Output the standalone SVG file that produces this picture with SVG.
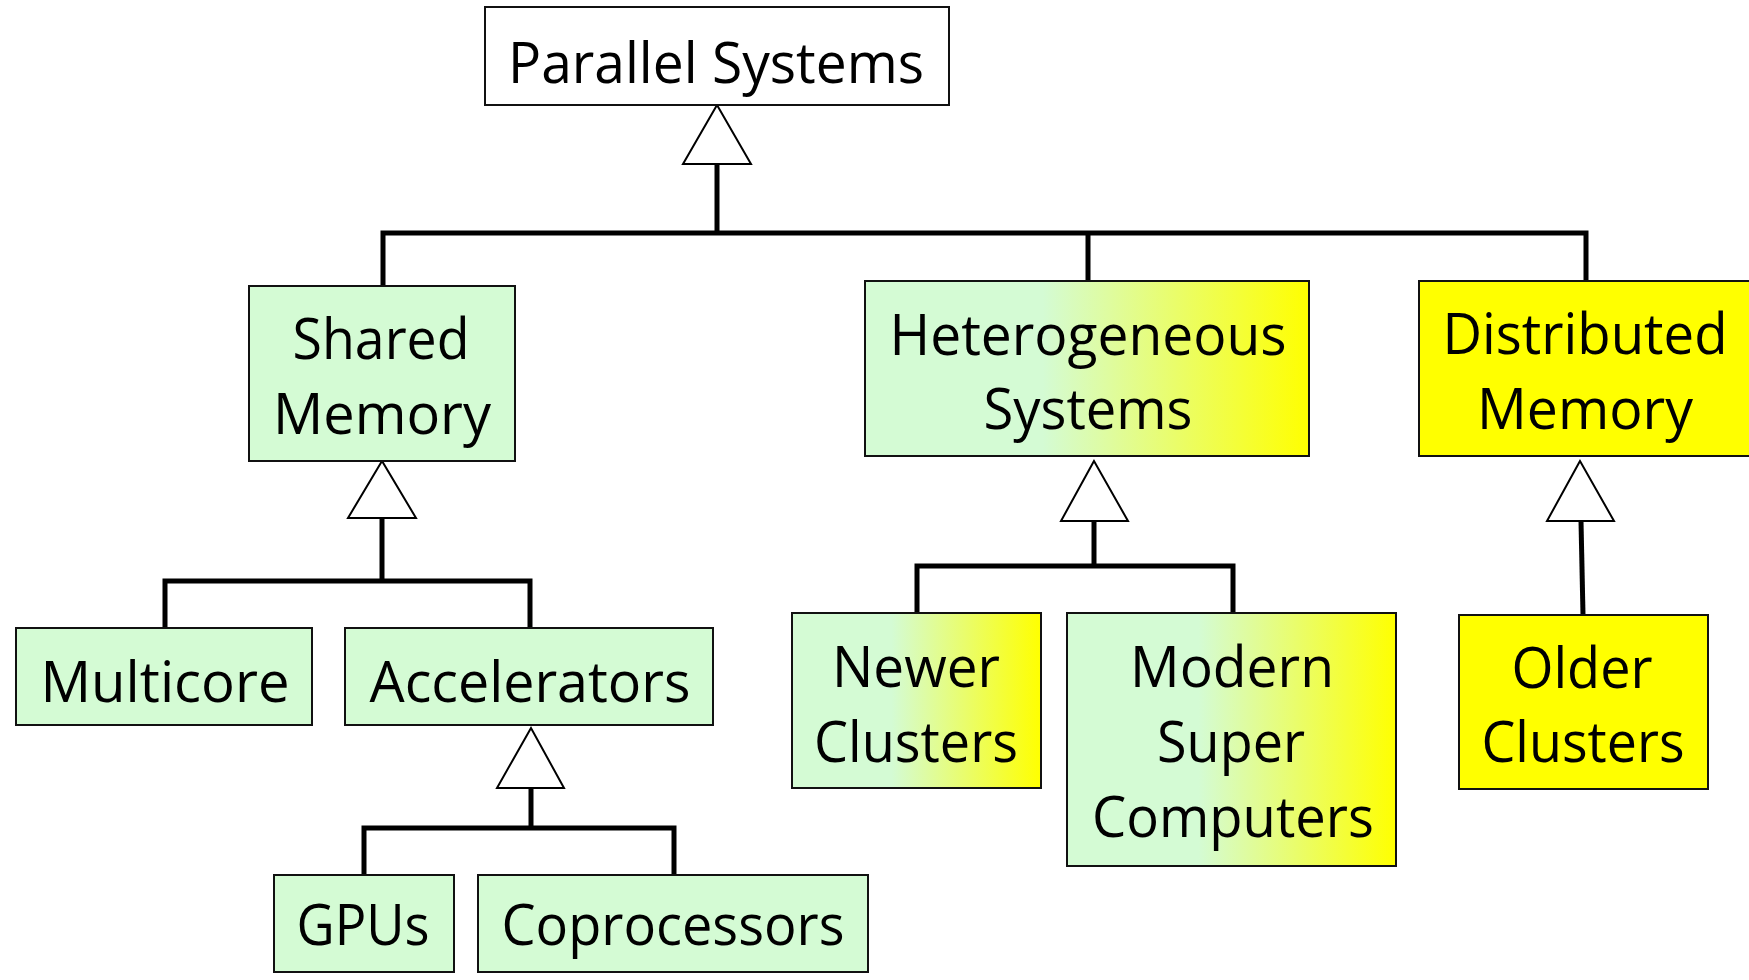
<svg xmlns="http://www.w3.org/2000/svg" width="1749" height="980" viewBox="0 0 1749 980">
<style>
.box{stroke:#111;stroke-width:2}
.green{fill:#d4fbd4}
.yellow{fill:#ffff00}
.white{fill:#ffffff}
.lbl{font-family:"Open Sans","Liberation Sans",sans-serif;font-size:56px;fill:#000;text-anchor:middle}
.wire{fill:none;stroke:#000;stroke-width:5;stroke-linejoin:miter;stroke-linecap:butt}
.tri{fill:#fff;stroke:#000;stroke-width:2;stroke-linejoin:miter}
</style>
<defs>
<linearGradient id="gy" x1="0" y1="0" x2="1" y2="0">
<stop offset="0" stop-color="#d4fbd4"/>
<stop offset="0.4" stop-color="#d4fbd4"/>
<stop offset="1" stop-color="#ffff00"/>
</linearGradient>
</defs>
<rect width="1749" height="980" fill="#ffffff"/>
<g id="connectors">
<path class="wire" d="M383,286 V233 H1586 V281"/>
<path class="wire" d="M717,164 V233"/>
<path class="wire" d="M1088,233 V281"/>
<path class="wire" d="M165,628 V581 H530 V628"/>
<path class="wire" d="M382,518 V581"/>
<path class="wire" d="M364,875 V828 H674 V875"/>
<path class="wire" d="M531,788 V828"/>
<path class="wire" d="M917,613 V566 H1233 V613"/>
<path class="wire" d="M1094,521 V566"/>
<path class="wire" d="M1581,521 L1583,615"/>
<polygon class="tri" points="717,105 683,164 751,164"/>
<polygon class="tri" points="382,461 348,518 416,518"/>
<polygon class="tri" points="531,728 497,788 564,788"/>
<polygon class="tri" points="1094,461 1061,521 1128,521"/>
<polygon class="tri" points="1580,461 1547,521 1614,521"/>
</g>
<g id="parallel-systems">
<rect class="box white" x="485" y="7" width="464" height="98"/>
<text class="lbl" x="716" y="83" textLength="416" lengthAdjust="spacingAndGlyphs">Parallel Systems</text>
</g>
<g id="shared-memory">
<rect class="box green" x="249" y="286" width="266" height="175"/>
<text class="lbl" x="381" y="359" textLength="177" lengthAdjust="spacingAndGlyphs">Shared</text>
<text class="lbl" x="382" y="434" textLength="218" lengthAdjust="spacingAndGlyphs">Memory</text>
</g>
<g id="heterogeneous-systems">
<rect class="box" fill="url(#gy)" x="865" y="281" width="444" height="175"/>
<text class="lbl" x="1088" y="355" textLength="397" lengthAdjust="spacingAndGlyphs">Heterogeneous</text>
<text class="lbl" x="1088" y="429" textLength="209" lengthAdjust="spacingAndGlyphs">Systems</text>
</g>
<g id="distributed-memory">
<rect class="box yellow" x="1419" y="281" width="345" height="175"/>
<text class="lbl" x="1585" y="354" textLength="285" lengthAdjust="spacingAndGlyphs">Distributed</text>
<text class="lbl" x="1585" y="429" textLength="216" lengthAdjust="spacingAndGlyphs">Memory</text>
</g>
<g id="multicore">
<rect class="box green" x="16" y="628" width="296" height="97"/>
<text class="lbl" x="165" y="702" textLength="249" lengthAdjust="spacingAndGlyphs">Multicore</text>
</g>
<g id="accelerators">
<rect class="box green" x="345" y="628" width="368" height="97"/>
<text class="lbl" x="530" y="702" textLength="321" lengthAdjust="spacingAndGlyphs">Accelerators</text>
</g>
<g id="gpus">
<rect class="box green" x="274" y="875" width="180" height="97"/>
<text class="lbl" x="363" y="945" textLength="133" lengthAdjust="spacingAndGlyphs">GPUs</text>
</g>
<g id="coprocessors">
<rect class="box green" x="478" y="875" width="390" height="97"/>
<text class="lbl" x="673" y="945" textLength="343" lengthAdjust="spacingAndGlyphs">Coprocessors</text>
</g>
<g id="newer-clusters">
<rect class="box" fill="url(#gy)" x="792" y="613" width="249" height="175"/>
<text class="lbl" x="916" y="687" textLength="168" lengthAdjust="spacingAndGlyphs">Newer</text>
<text class="lbl" x="916" y="762" textLength="204" lengthAdjust="spacingAndGlyphs">Clusters</text>
</g>
<g id="modern-super-computers">
<rect class="box" fill="url(#gy)" x="1067" y="613" width="329" height="253"/>
<text class="lbl" x="1232" y="687" textLength="204" lengthAdjust="spacingAndGlyphs">Modern</text>
<text class="lbl" x="1231" y="762" textLength="148" lengthAdjust="spacingAndGlyphs">Super</text>
<text class="lbl" x="1233" y="837" textLength="282" lengthAdjust="spacingAndGlyphs">Computers</text>
</g>
<g id="older-clusters">
<rect class="box yellow" x="1459" y="615" width="249" height="174"/>
<text class="lbl" x="1582" y="688" textLength="141" lengthAdjust="spacingAndGlyphs">Older</text>
<text class="lbl" x="1583" y="762" textLength="203" lengthAdjust="spacingAndGlyphs">Clusters</text>
</g>
</svg>
